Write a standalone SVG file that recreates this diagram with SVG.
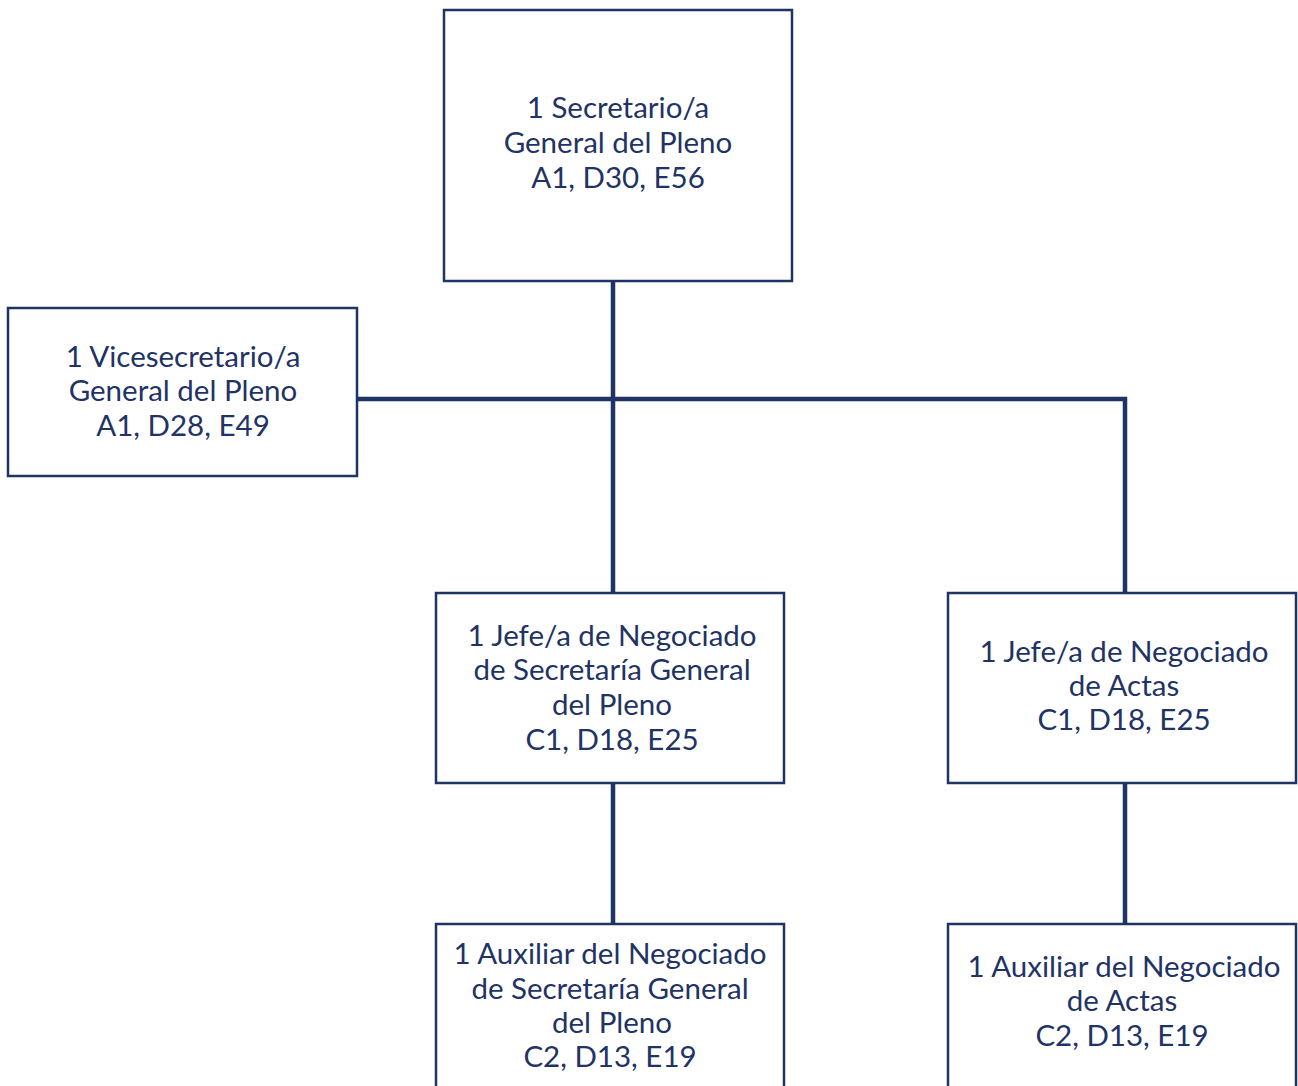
<svg xmlns="http://www.w3.org/2000/svg" width="1298" height="1086" viewBox="0 0 1298 1086">
<style>
.box{fill:#fff;stroke:#1f3364;stroke-width:2.5}
.t{font-family:Lato,"Liberation Sans",sans-serif;font-size:29.5px;fill:#1f3364;text-anchor:middle}
.c{stroke:#1f3364;stroke-width:4.5;fill:none}
</style>
<rect width="1298" height="1086" fill="#fff"/>
<g id="connectors">
<path class="c" d="M613 281V593"/>
<path class="c" d="M357 399H1125V593"/>
<path class="c" d="M613 783V924"/>
<path class="c" d="M1125 784V924"/>
</g>
<g id="n-secretario">
<rect class="box" x="444" y="10" width="348" height="271"/>
<text class="t" x="618" y="118">1 Secretario/a</text>
<text class="t" x="618" y="153">General del Pleno</text>
<text class="t" x="618" y="188">A1, D30, E56</text>
</g>
<g id="n-vicesecretario">
<rect class="box" x="8" y="308" width="349" height="168"/>
<text class="t" x="183" y="367">1 Vicesecretario/a</text>
<text class="t" x="183" y="401">General del Pleno</text>
<text class="t" x="183" y="436">A1, D28, E49</text>
</g>
<g id="n-jefe-sg">
<rect class="box" x="436" y="593" width="348" height="190"/>
<text class="t" x="612" y="646">1 Jefe/a de Negociado</text>
<text class="t" x="612" y="680">de Secretaría General</text>
<text class="t" x="612" y="715">del Pleno</text>
<text class="t" x="612" y="750">C1, D18, E25</text>
</g>
<g id="n-jefe-actas">
<rect class="box" x="948" y="593" width="348" height="190"/>
<text class="t" x="1124" y="662">1 Jefe/a de Negociado</text>
<text class="t" x="1124" y="696">de Actas</text>
<text class="t" x="1124" y="730">C1, D18, E25</text>
</g>
<g id="n-aux-sg">
<rect class="box" x="436" y="924" width="348" height="180"/>
<text class="t" x="610" y="964">1 Auxiliar del Negociado</text>
<text class="t" x="610" y="999">de Secretaría General</text>
<text class="t" x="612" y="1033">del Pleno</text>
<text class="t" x="610" y="1067">C2, D13, E19</text>
</g>
<g id="n-aux-actas">
<rect class="box" x="948" y="924" width="348" height="180"/>
<text class="t" x="1124" y="977">1 Auxiliar del Negociado</text>
<text class="t" x="1122" y="1011">de Actas</text>
<text class="t" x="1122" y="1046">C2, D13, E19</text>
</g>
</svg>
